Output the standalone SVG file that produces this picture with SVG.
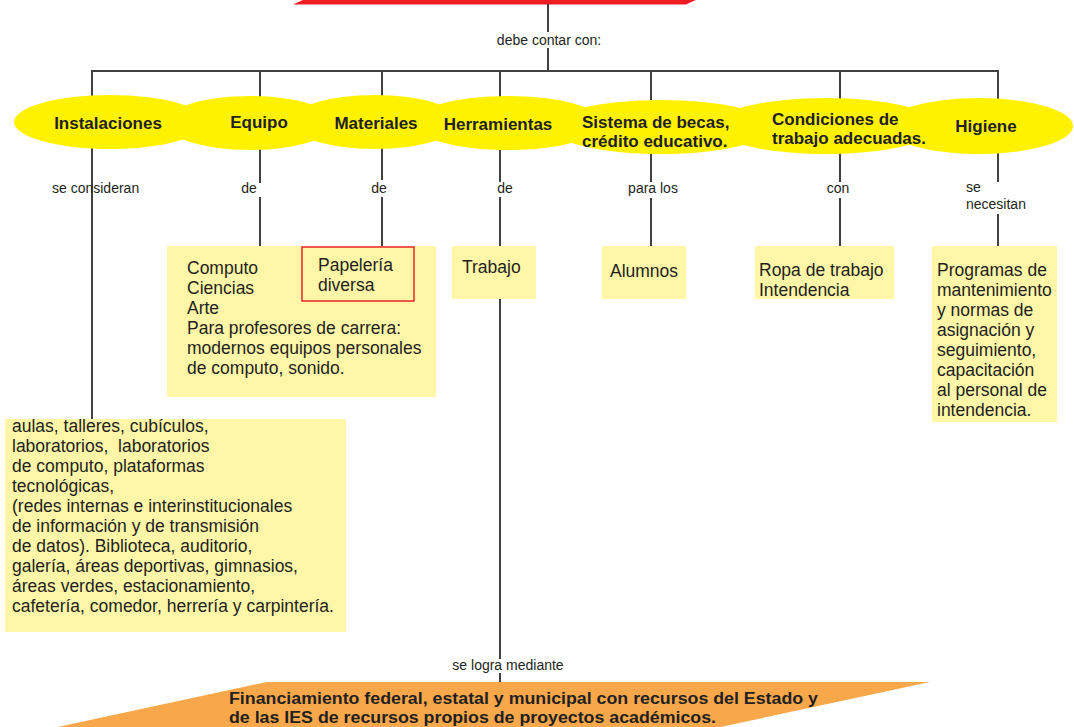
<svg xmlns="http://www.w3.org/2000/svg" width="1074" height="727" viewBox="0 0 1074 727">
<style>
  .ln{stroke:#404040;stroke-width:2;fill:none}
  .el{fill:#FFF200}
  .bx{fill:#FFF6A8}
  .t{font-family:"Liberation Sans",Arial,sans-serif;fill:#231F20}
  .h{font-size:17px;font-weight:bold}
  .b{font-size:17.5px}
  .s{font-size:14px}
  .f{font-size:16px;font-weight:bold}
</style>
<rect width="1074" height="727" fill="#ffffff"/>
<g id="top">
  <polygon points="293,4.5 686,4.5 698,-1 305,-1" fill="#ED1C24"/>
</g>
<g id="connectors">
  <path class="ln" d="M548,4V32M548,48V71M92,100V71H998V100M260,71V100M382,71V100M500,71V100M651,71V100M840,71V100"/>
  <path class="ln" d="M92,145V419"/>
  <path class="ln" d="M260,148V183M260,197V246"/>
  <path class="ln" d="M382,148V180M382,197V246"/>
  <path class="ln" d="M500,148V182M500,197V246M500,299V659M500,673V682"/>
  <path class="ln" d="M651,150V182M651,198V246"/>
  <path class="ln" d="M840,150V182M840,198V246"/>
  <path class="ln" d="M998,150V182M998,214V246"/>
  <text class="t s" x="549" y="45" text-anchor="middle">debe contar con:</text>
  <text class="t s" x="52" y="193">se consideran</text>
  <text class="t s" x="249" y="193" text-anchor="middle">de</text>
  <text class="t s" x="379" y="193" text-anchor="middle">de</text>
  <text class="t s" x="505" y="193" text-anchor="middle">de</text>
  <text class="t s" x="653" y="193" text-anchor="middle">para los</text>
  <text class="t s" x="838" y="193" text-anchor="middle">con</text>
  <text class="t s" x="966" y="192">se</text>
  <text class="t s" x="966" y="209">necesitan</text>
  <text class="t s" x="508" y="670" text-anchor="middle">se logra mediante</text>
</g>
<g id="n-instalaciones">
  <ellipse class="el" cx="110" cy="122" rx="96" ry="27"/>
</g>
<g id="n-equipo">
  <ellipse class="el" cx="250" cy="123" rx="85" ry="27"/>
</g>
<g id="n-materiales">
  <ellipse class="el" cx="375" cy="122" rx="85" ry="27"/>
</g>
<g id="n-herramientas">
  <ellipse class="el" cx="508" cy="123" rx="95" ry="27"/>
</g>
<g id="n-sistema">
  <ellipse class="el" cx="661" cy="127" rx="111" ry="27"/>
</g>
<g id="n-condiciones">
  <ellipse class="el" cx="826" cy="126" rx="113" ry="28"/>
</g>
<g id="n-higiene">
  <ellipse class="el" cx="979" cy="126" rx="94" ry="28"/>
</g>
<g id="ellipse-labels">
  <text class="t h" x="108" y="129" text-anchor="middle">Instalaciones</text>
  <text class="t h" x="259" y="128" text-anchor="middle">Equipo</text>
  <text class="t h" x="376" y="129" text-anchor="middle">Materiales</text>
  <text class="t h" x="498" y="130" text-anchor="middle">Herramientas</text>
  <text class="t h" x="582" y="128">Sistema de becas,</text>
  <text class="t h" x="582" y="147">crédito educativo.</text>
  <text class="t h" x="772" y="125">Condiciones de</text>
  <text class="t h" x="772" y="144">trabajo adecuadas.</text>
  <text class="t h" x="986" y="132" text-anchor="middle">Higiene</text>
</g>
<g id="n-equipo-box">
  <rect class="bx" x="167" y="246" width="269" height="151"/>
  <text class="t b" x="187" y="274">Computo<tspan x="187" dy="20">Ciencias</tspan><tspan x="187" dy="20">Arte</tspan><tspan x="187" dy="20">Para profesores de carrera:</tspan><tspan x="187" dy="20">modernos equipos personales</tspan><tspan x="187" dy="20">de computo, sonido.</tspan></text>
</g>
<g id="n-papeleria">
  <rect class="bx" x="302" y="247" width="112" height="54" stroke="#E8262C" stroke-width="1.5"/>
  <text class="t b" x="318" y="271">Papelería<tspan x="318" dy="20">diversa</tspan></text>
</g>
<g id="n-trabajo">
  <rect class="bx" x="452" y="246" width="84" height="53"/>
  <text class="t b" x="462" y="273">Trabajo</text>
</g>
<g id="n-alumnos">
  <rect class="bx" x="602" y="246" width="84" height="53"/>
  <text class="t b" x="610" y="277">Alumnos</text>
</g>
<g id="n-ropa">
  <rect class="bx" x="755" y="246" width="139" height="53"/>
  <text class="t b" x="759" y="276">Ropa de trabajo<tspan x="759" dy="20">Intendencia</tspan></text>
</g>
<g id="n-programas">
  <rect class="bx" x="932" y="246" width="125" height="176"/>
  <text class="t b" x="937" y="276">Programas de<tspan x="937" dy="20">mantenimiento</tspan><tspan x="937" dy="20">y normas de</tspan><tspan x="937" dy="20">asignación y</tspan><tspan x="937" dy="20">seguimiento,</tspan><tspan x="937" dy="20">capacitación</tspan><tspan x="937" dy="20">al personal de</tspan><tspan x="937" dy="20">intendencia.</tspan></text>
</g>
<g id="n-instalaciones-box">
  <rect class="bx" x="5" y="419" width="341" height="213"/>
  <text class="t b" x="12" y="432">aulas, talleres, cubículos,<tspan x="12" dy="20">laboratorios,&#160; laboratorios</tspan><tspan x="12" dy="20">de computo, plataformas</tspan><tspan x="12" dy="20">tecnológicas,</tspan><tspan x="12" dy="20">(redes internas e interinstitucionales</tspan><tspan x="12" dy="20">de información y de transmisión</tspan><tspan x="12" dy="20">de datos). Biblioteca, auditorio,</tspan><tspan x="12" dy="20">galería, áreas deportivas, gimnasios,</tspan><tspan x="12" dy="20">áreas verdes, estacionamiento,</tspan><tspan x="12" dy="20">cafetería, comedor, herrería y carpintería.</tspan></text>
</g>
<g id="n-financiamiento">
  <polygon points="267,682 930,682 716,728 53,728" fill="#F9A74B"/>
  <text class="t f" x="229" y="704" textLength="589" lengthAdjust="spacingAndGlyphs">Financiamiento federal, estatal y municipal con recursos del Estado y</text>
  <text class="t f" x="229" y="723" textLength="487" lengthAdjust="spacingAndGlyphs">de las IES de recursos propios de proyectos académicos.</text>
</g>
</svg>
